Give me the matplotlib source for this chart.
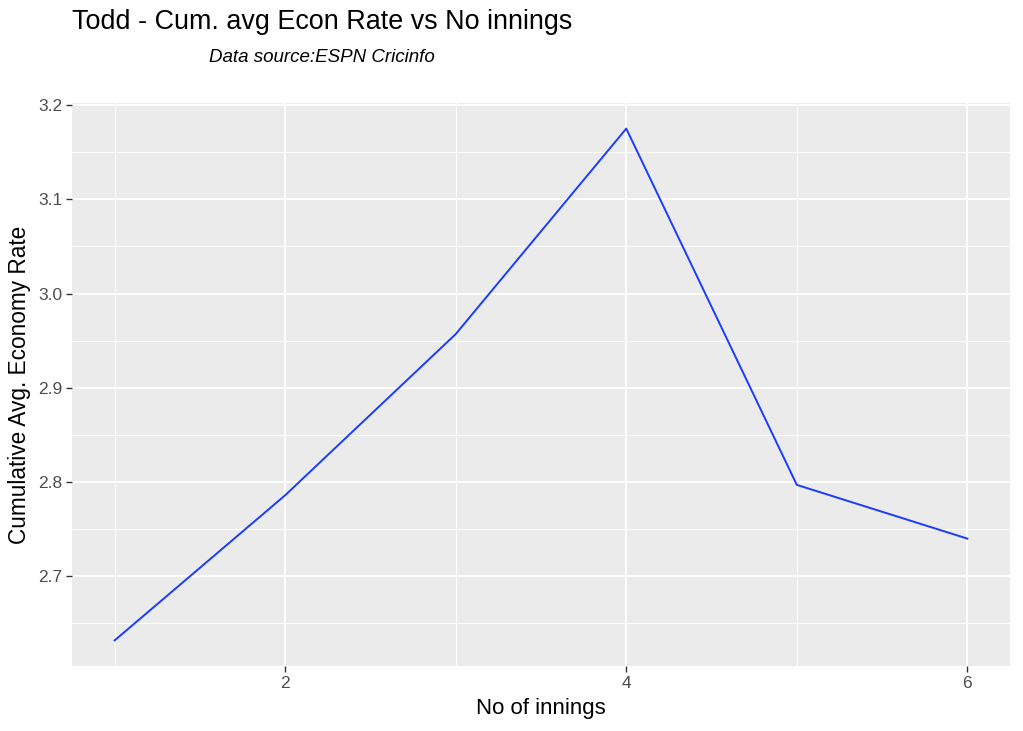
import matplotlib
matplotlib.use("Agg")
import matplotlib.pyplot as plt
from matplotlib.ticker import MultipleLocator

# data
innings = [1, 2, 3, 4, 5, 6]
cum_econ = [2.632, 2.786, 2.957, 3.175, 2.797, 2.740]

plt.rcParams['font.family'] = ['Liberation Sans', 'DejaVu Sans']

W, H = 1023, 731
fig = plt.figure(figsize=(W / 100, H / 100), dpi=100)
ax = fig.add_axes([72 / W, 1 - 666 / H, (1010 - 72) / W, (666 - 103) / H])

ax.set_facecolor("#EBEBEB")
for s in ax.spines.values():
    s.set_visible(False)

ax.plot(innings, cum_econ, color="#1A3CFF", linewidth=1.4, zorder=3)

# ggplot-style expansion
xr = max(innings) - min(innings)
ax.set_xlim(min(innings) - 0.05 * xr, max(innings) + 0.05 * xr)
yr = max(cum_econ) - min(cum_econ)
ax.set_ylim(min(cum_econ) - 0.05 * yr, max(cum_econ) + 0.05 * yr)

ax.xaxis.set_major_locator(MultipleLocator(2))
ax.xaxis.set_minor_locator(MultipleLocator(1))
ax.yaxis.set_major_locator(MultipleLocator(0.1))
ax.yaxis.set_minor_locator(MultipleLocator(0.05))
ax.yaxis.set_major_formatter(matplotlib.ticker.FormatStrFormatter("%.1f"))

ax.grid(which="major", color="white", linewidth=1.3, zorder=0)
ax.grid(which="minor", color="white", linewidth=0.65, zorder=0)
ax.set_axisbelow(True)

ax.tick_params(which="major", length=4, width=1, color="#333333",
               labelcolor="#4D4D4D", labelsize=12.5, pad=3)
ax.tick_params(which="minor", length=0)

ax.set_xlabel("No of innings", fontsize=16, labelpad=5)
ax.set_ylabel("Cumulative Avg. Economy Rate", fontsize=16.3, labelpad=5)

fig.text(72 / W, 1 - 22 / H, "Todd - Cum. avg Econ Rate vs No innings",
         fontsize=19.4, va="center", ha="left")
fig.text(322 / W, 1 - 58 / H, "Data source:ESPN Cricinfo",
         fontsize=13.5, style="italic", va="center", ha="center")

fig.savefig("out.png", dpi=100)
